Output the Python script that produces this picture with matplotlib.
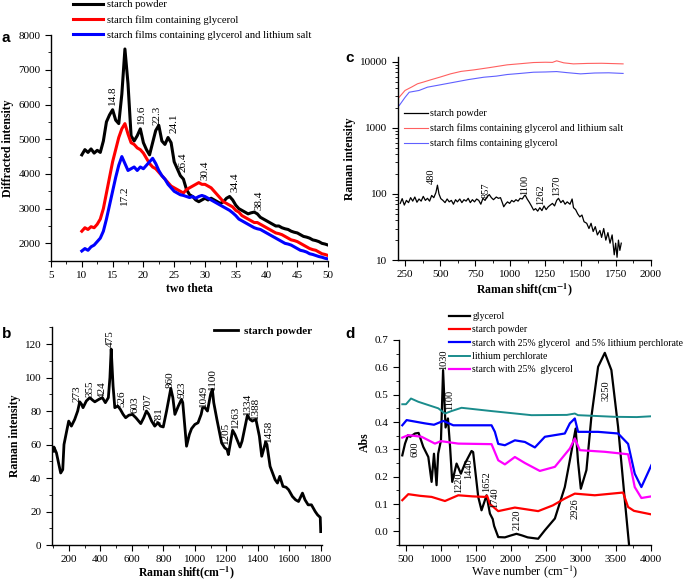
import matplotlib
matplotlib.use("Agg")
import matplotlib.pyplot as plt
from matplotlib.ticker import MultipleLocator

plt.rcParams['font.family'] = ['Liberation Serif', 'DejaVu Serif']
plt.rcParams['mathtext.fontset'] = 'stix'
plt.rcParams['font.size'] = 8
plt.rcParams['axes.linewidth'] = 1.0

# ---- panel a: XRD ----
theta = [10 + 0.5 * i for i in range(81)]
xrd_powder = [4550, 4700, 4620, 4720, 4600, 4680, 4620, 4950, 5500, 5700,
              5850, 5550, 5450, 6300, 7600, 6600, 5100, 4950, 5100, 5300,
              4900, 4700, 4550, 4900, 5250, 5400, 4950, 4850, 5050, 4900,
              4350, 4150, 3950, 3850, 3550, 3400, 3350, 3250, 3200, 3250,
              3300, 3250, 3300, 3250, 3200, 3150, 3200, 3300, 3350, 3250,
              3100, 3000, 2950, 2900, 2850, 2880, 2900, 2850, 2750, 2700,
              2650, 2600, 2550, 2500, 2500, 2450, 2420, 2400, 2350, 2320,
              2300, 2250, 2200, 2180, 2150, 2100, 2080, 2050, 2000, 1980, 1950]
xrd_glyc = [2350, 2450, 2400, 2480, 2450, 2550, 2700, 3000, 3450, 3900,
            4350, 4700, 5050, 5300, 5450, 5150, 4900, 4850, 4750, 4700,
            4600, 4450, 4300, 4200, 4150, 4050, 3950, 3850, 3750, 3650,
            3600, 3550, 3500, 3450, 3550, 3600, 3650, 3700, 3750, 3700,
            3700, 3650, 3600, 3500, 3400, 3300, 3200, 3150, 3100, 3050,
            2950, 2900, 2800, 2750, 2700, 2650, 2600, 2600, 2550, 2500,
            2450, 2400, 2350, 2300, 2280, 2250, 2200, 2150, 2100, 2080,
            2050, 2000, 1950, 1900, 1850, 1820, 1800, 1750, 1700, 1680, 1650]
xrd_li = [1780, 1850, 1800, 1900, 1950, 2050, 2150, 2350, 2700, 3100,
          3500, 3900, 4250, 4500, 4300, 4100, 4150, 4200, 4100, 4200,
          4150, 4250, 4350, 4450, 4300, 4100, 3950, 3850, 3700, 3600,
          3500, 3450, 3400, 3380, 3350, 3320, 3350, 3300, 3350, 3380,
          3350, 3300, 3250, 3200, 3150, 3100, 3050, 3000, 2950, 2880,
          2800, 2700, 2650, 2600, 2550, 2500, 2450, 2420, 2400, 2350,
          2300, 2250, 2200, 2150, 2100, 2050, 2000, 1980, 1950, 1900,
          1850, 1800, 1780, 1750, 1700, 1680, 1650, 1620, 1600, 1570, 1550]
a_labels = ["14.8", "19.6", "22.3", "24.1", "26.4", "30.4", "34.4", "38.4"]
a_lab_x = [15.0, 19.7, 22.2, 24.9, 26.5, 30.0, 34.9, 38.7]
a_lab_y = [6000, 5450, 5400, 5180, 4060, 3820, 3480, 2960]

# ---- panel b: Raman starch powder ----
b_x = [100, 104, 120, 147, 160, 168, 185, 198, 215, 236, 255, 268, 280, 289,
       310, 332, 350, 364, 390, 412, 431, 450, 460, 468, 480, 491, 510, 526,
       544, 560, 580, 603, 625, 656, 675, 692, 707, 725, 745, 765, 781, 799,
       820, 847, 860, 873, 895, 915, 923, 947, 965, 979, 1000, 1020, 1040,
       1049, 1064, 1080, 1100, 1111, 1120, 1140, 1170, 1190, 1205, 1213,
       1240, 1255, 1287, 1300, 1334, 1350, 1365, 1388, 1410, 1425, 1450,
       1458, 1478, 1510, 1525, 1540, 1560, 1580, 1596, 1620, 1640, 1659,
       1684, 1700, 1720, 1741, 1765, 1780, 1797, 1800]
b_y = [56, 58.5, 55, 43, 45, 60, 68, 74, 71, 75, 80, 85.5, 84, 82,
       86, 88, 86.5, 85.5, 87, 88, 85, 88, 100, 117, 95, 82, 83, 81,
       78, 76, 77.5, 78, 76, 72.5, 76, 80, 78, 74, 71, 73, 71, 70.5,
       80, 93.5, 88, 78, 83, 87, 85, 59, 66, 69.5, 72, 73, 78,
       82, 82, 80, 90, 93, 85, 75, 61, 58, 57, 54,
       68.5, 66, 58.5, 62, 77.5, 75, 74, 75, 65, 53, 61.5,
       60, 47, 39, 37, 41, 35, 34.5, 33, 29, 27, 26,
       31, 27, 24, 24, 20, 18, 16.5, 8]
b_labels = ["273", "355", "424", "475", "526", "603", "707", "781", "860",
            "923", "1049", "1100", "1205", "1263", "1334", "1388", "1458"]
b_lab_x = [253, 332, 410, 463, 533, 622, 703, 773, 845, 922, 1054, 1111,
           1192, 1255, 1332, 1387, 1468]
b_lab_y = [85.6, 88.4, 88, 118.4, 82.2, 78.8, 80.6, 72.2, 93.5, 87.6, 82.2,
           92.5, 60.3, 69.6, 77.6, 75.2, 61.7]

# ---- panel c: Raman, log scale ----
c_x_powder = [216, 230, 245, 260, 275, 290, 305, 320, 335, 350, 365, 380, 395,
              410, 425, 440, 455, 470, 481, 492, 505, 520, 535, 550, 565, 580,
              595, 610, 623, 640, 655, 670, 685, 700, 715, 730, 745, 760, 775,
              790, 805, 820, 834, 850, 865, 880, 900, 915, 930, 945, 953, 965,
              980, 995, 1010, 1025, 1040, 1055, 1070, 1085, 1100, 1106, 1120,
              1135, 1150, 1166, 1180, 1195, 1210, 1225, 1240, 1255, 1270, 1285,
              1300, 1315, 1330, 1343, 1360, 1375, 1390, 1405, 1425, 1440, 1450,
              1465, 1480, 1495, 1510, 1525, 1544, 1560, 1575, 1590, 1605, 1620,
              1638, 1650, 1665, 1680, 1695, 1710, 1725, 1740, 1750, 1760, 1770,
              1780, 1790]
c_powder = [72, 85, 68, 80, 74, 88, 78, 90, 75, 84, 78, 92, 80,
            86, 78, 95, 88, 105, 136, 100, 85, 80, 74, 84, 76, 80,
            70, 82, 76, 84, 74, 82, 78, 86, 74, 82, 76, 84, 80,
            70, 86, 80, 90, 98, 88, 82, 90, 86, 88, 72, 64, 70,
            76, 72, 80, 76, 82, 78, 86, 84, 94, 96, 84,
            75, 66, 57, 60, 55, 62, 56, 66, 58, 64, 68,
            72, 66, 80, 86, 74, 80, 70, 76, 70, 84, 62,
            58, 50, 45, 48, 38, 36, 30, 36, 27, 32, 24,
            28, 22, 30, 20, 26, 18, 24, 12, 18, 11, 20,
            14, 18]
c_x_li = [209, 250, 300, 339, 380, 434, 500, 575, 650, 740, 850, 977, 1070,
          1165, 1250, 1300, 1330, 1380, 1449, 1550, 1650, 1803]
c_li = [2930, 3700, 4200, 4670, 4950, 5370, 5900, 6610, 7200, 7580, 8200,
        9040, 9400, 9800, 9900, 9850, 10400, 9700, 9350, 9500, 9550, 9350]
c_x_glyc = [209, 250, 280, 350, 410, 500, 600, 700, 811, 900, 977, 1070, 1165,
            1250, 1330, 1400, 1500, 1600, 1700, 1803]
c_glyc = [2190, 2900, 3480, 3700, 4150, 4500, 4930, 5400, 5870, 6100, 6450,
          6700, 6990, 7050, 7150, 6900, 6600, 6800, 6850, 6700]
c_labels = ["480", "857", "1100", "1262", "1370"]
c_lab_x = [434, 830, 1102, 1213, 1331]
c_lab_y = [140, 86, 96, 68, 93]

# ---- panel d: FTIR ----
d_x_glycerol = [447, 486, 530, 560, 629, 680, 747, 819, 866, 900, 937, 960,
                1000, 1030, 1066, 1100, 1130, 1161, 1223, 1285, 1343, 1437,
                1460, 1533, 1580, 1652, 1700, 1740, 1760, 1819, 1914, 2000,
                2080, 2160, 2240, 2390, 2486, 2629, 2771, 2843, 2926, 2960,
                3000, 3080, 3151, 3247, 3343, 3437, 3533, 3629, 3690]
d_glycerol = [0.278, 0.321, 0.352, 0.346, 0.358, 0.36, 0.309, 0.272, 0.181,
              0.284, 0.169, 0.284, 0.333, 0.59, 0.38, 0.413, 0.31, 0.181,
              0.248, 0.211, 0.248, 0.294, 0.29, 0.126, 0.077, 0.132, 0.065,
              0.045, 0.02, -0.021, -0.022, -0.015, -0.009, -0.015, -0.022,
              -0.027, 0.004, 0.047, 0.162, 0.26, 0.376, 0.255, 0.156, 0.224,
              0.419, 0.602, 0.653, 0.59, 0.382, 0.114, -0.05]
d_x_starch = [447, 533, 700, 866, 1057, 1247, 1450, 1629, 1660, 1700, 1819,
              2057, 2390, 2600, 2771, 2914, 3200, 3604, 3676, 3760, 4009]
d_starch = [0.114, 0.136, 0.13, 0.126, 0.111, 0.132, 0.128, 0.126, 0.13, 0.1,
            0.074, 0.087, 0.074, 0.095, 0.12, 0.138, 0.132, 0.142, 0.089,
            0.075, 0.062]
d_x_li_film = [447, 509, 771, 900, 1033, 1176, 1500, 1723, 1771, 1819, 1914,
               2057, 2200, 2343, 2486, 2771, 2843, 2914, 2961, 3247, 3533,
               3676, 3771, 3866, 4009]
d_li_film = [0.388, 0.407, 0.395, 0.39, 0.404, 0.388, 0.388, 0.388, 0.364,
             0.32, 0.315, 0.333, 0.327, 0.307, 0.346, 0.358, 0.395, 0.413,
             0.364, 0.364, 0.358, 0.32, 0.211, 0.162, 0.242]
d_x_licl = [447, 500, 571, 676, 819, 962, 1057, 1150, 1294, 1723, 2294, 2800,
            2914, 2960, 3486, 3800, 4009]
d_licl = [0.465, 0.465, 0.486, 0.474, 0.462, 0.45, 0.431, 0.44, 0.452, 0.44,
          0.425, 0.426, 0.431, 0.425, 0.419, 0.418, 0.421]
d_x_glyc_film = [447, 533, 723, 914, 1000, 1247, 1723, 1819, 1914, 2057, 2200,
                 2414, 2629, 2843, 2914, 2986, 3343, 3676, 3771, 3866, 4009]
d_glyc_film = [0.343, 0.352, 0.346, 0.321, 0.33, 0.321, 0.319, 0.26, 0.245,
               0.272, 0.25, 0.221, 0.236, 0.303, 0.34, 0.297, 0.291, 0.282,
               0.162, 0.122, 0.128]
d_labels = ["600", "1030", "1100", "1220", "1440", "1652", "1740", "2120",
            "2926", "3250"]
d_lab_x = [629, 1043, 1129, 1247, 1390, 1651, 1761, 2094, 2914, 3366]
d_lab_y = [0.327, 0.59, 0.443, 0.217, 0.266, 0.144, 0.162, 0.004, 0.12, 0.553]
d_lab_va = ["top", "bottom", "bottom", "top", "top", "bottom", "top", "bottom",
            "top", "top"]


def style(ax):
    ax.spines['top'].set_visible(False)
    ax.spines['right'].set_visible(False)
    ax.tick_params(which='major', direction='out', length=4, labelsize=8)
    ax.tick_params(which='minor', direction='out', length=2)


fig = plt.figure(figsize=(6.85, 5.8), dpi=100)
ax_a = fig.add_axes([0.0745, 0.5505, 0.4045, 0.389])
ax_c = fig.add_axes([0.581, 0.5517, 0.369, 0.3505])
ax_b = fig.add_axes([0.0755, 0.0603, 0.395, 0.3754])
ax_d = fig.add_axes([0.5825, 0.0603, 0.3675, 0.3535])

# a
ax_a.plot(theta, xrd_powder, color='black', lw=2.2, label='starch powder')
ax_a.plot(theta, xrd_glyc, color='red', lw=2.2,
          label='starch film containing glycerol')
ax_a.plot(theta, xrd_li, color='blue', lw=2.2,
          label='starch films containing glycerol and lithium salt')
for t, x, y in zip(a_labels, a_lab_x, a_lab_y):
    ax_a.text(x, y, t, rotation=90, ha='center', va='bottom', fontsize=8)
ax_a.text(17.0, 3680, "17.2", rotation=90, ha='center', va='top', fontsize=8)
ax_a.set_xlim(5, 50)
ax_a.set_ylim(1500, 8000)
ax_a.xaxis.set_major_locator(MultipleLocator(5))
ax_a.xaxis.set_minor_locator(MultipleLocator(2.5))
ax_a.yaxis.set_major_locator(MultipleLocator(1000))
ax_a.yaxis.set_minor_locator(MultipleLocator(500))
ax_a.set_xlabel('two theta', fontweight='bold', fontsize=8.5, labelpad=2)
ax_a.set_ylabel('Diffracted intensity', fontweight='bold', fontsize=8.5,
                labelpad=3)
style(ax_a)
ax_a.legend(loc='upper left', bbox_to_anchor=(73 / 685, 1.0),
            bbox_transform=fig.transFigure, frameon=False, fontsize=7.7,
            borderpad=0, borderaxespad=0, handlelength=2.8,
            handletextpad=0.4, labelspacing=0.5)

# b
ax_b.plot(b_x, b_y, color='black', lw=2, label='starch powder')
for t, x, y in zip(b_labels, b_lab_x, b_lab_y):
    ax_b.text(x, y, t, rotation=90, ha='center', va='bottom', fontsize=8)
ax_b.set_xlim(90, 1810)
ax_b.set_ylim(0, 130)
ax_b.xaxis.set_major_locator(MultipleLocator(200))
ax_b.xaxis.set_minor_locator(MultipleLocator(100))
ax_b.yaxis.set_major_locator(MultipleLocator(20))
ax_b.yaxis.set_minor_locator(MultipleLocator(10))
ax_b.set_xlabel('Raman shift(cm$^{\\mathbf{-1}}$)', fontweight='bold',
                fontsize=8.5, labelpad=0)
ax_b.set_ylabel('Raman intensity', fontweight='bold', fontsize=8.5, labelpad=3)
style(ax_b)
ax_b.legend(loc='upper left', bbox_to_anchor=(214 / 685, 1 - 326 / 580),
            bbox_transform=fig.transFigure, frameon=False,
            prop={'weight': 'bold', 'size': 8}, borderpad=0, borderaxespad=0,
            handlelength=2.2, handletextpad=0.5)

# c
ax_c.plot(c_x_powder, c_powder, color='black', lw=0.9, label='starch powder')
ax_c.plot(c_x_li, c_li, color='#ff6060', lw=0.8,
          label='starch films containing glycerol and lithium salt')
ax_c.plot(c_x_glyc, c_glyc, color='#6060ff', lw=0.8,
          label='starch films containing glycerol')
for t, x, y in zip(c_labels, c_lab_x, c_lab_y):
    ax_c.text(x, y, t, rotation=90, ha='center', va='bottom', fontsize=7.5)
ax_c.set_yscale('log')
ax_c.set_xlim(200, 2000)
ax_c.set_ylim(10, 12000)
ax_c.xaxis.set_major_locator(MultipleLocator(250))
ax_c.xaxis.set_minor_locator(MultipleLocator(125))
ax_c.set_yticks([10, 100, 1000, 10000])
ax_c.set_yticklabels(['10', '100', '1000', '10000'])
ax_c.set_xlabel('Raman shift(cm$^{\\mathbf{-1}}$)', fontweight='bold',
                fontsize=8.5, labelpad=1)
ax_c.set_ylabel('Raman intensity', fontweight='bold', fontsize=8.5, labelpad=3)
style(ax_c)
ax_c.legend(loc='upper left', bbox_to_anchor=(404 / 685, 1 - 109 / 580),
            bbox_transform=fig.transFigure, frameon=False, fontsize=7.2,
            borderpad=0, borderaxespad=0, handlelength=2.4,
            handletextpad=0.2, labelspacing=0.55)

# d
ax_d.plot(d_x_glycerol, d_glycerol, color='black', lw=1.6, label='glycerol')
ax_d.plot(d_x_starch, d_starch, color='red', lw=1.6, label='starch powder')
ax_d.plot(d_x_li_film, d_li_film, color='blue', lw=1.6,
          label='starch with 25% glycerol  and 5% lithium perchlorate')
ax_d.plot(d_x_licl, d_licl, color='#1a8c8c', lw=1.4,
          label='lithium perchlorate')
ax_d.plot(d_x_glyc_film, d_glyc_film, color='magenta', lw=1.6,
          label='starch with 25%  glycerol')
for t, x, y, va in zip(d_labels, d_lab_x, d_lab_y, d_lab_va):
    ax_d.text(x, y, t, rotation=90, ha='center', va=va, fontsize=7.5)
ax_d.set_xlim(400, 4000)
ax_d.set_ylim(-0.05, 0.7)
ax_d.xaxis.set_major_locator(MultipleLocator(500))
ax_d.xaxis.set_minor_locator(MultipleLocator(250))
ax_d.yaxis.set_major_locator(MultipleLocator(0.1))
ax_d.yaxis.set_minor_locator(MultipleLocator(0.05))
ax_d.set_xlabel('Wave number (cm$^{-1}$)', fontsize=8.8, labelpad=-0.5)
ax_d.set_ylabel('Abs', fontweight='bold', fontsize=8.5, labelpad=3)
style(ax_d)
ax_d.legend(loc='upper left', bbox_to_anchor=(449 / 685, 1 - 312 / 580),
            bbox_transform=fig.transFigure, frameon=False, fontsize=7,
            borderpad=0, borderaxespad=0, handlelength=2.2,
            handletextpad=0.2, labelspacing=0.45)

for letter, (x, y) in zip("abcd", [(2, 42), (2, 338), (345, 62), (345, 338)]):
    fig.text(x / 685, 1 - y / 580, letter, fontsize=11, fontweight='bold',
             family=['Liberation Sans', 'DejaVu Sans'])

fig.savefig('out.png', dpi=100)
